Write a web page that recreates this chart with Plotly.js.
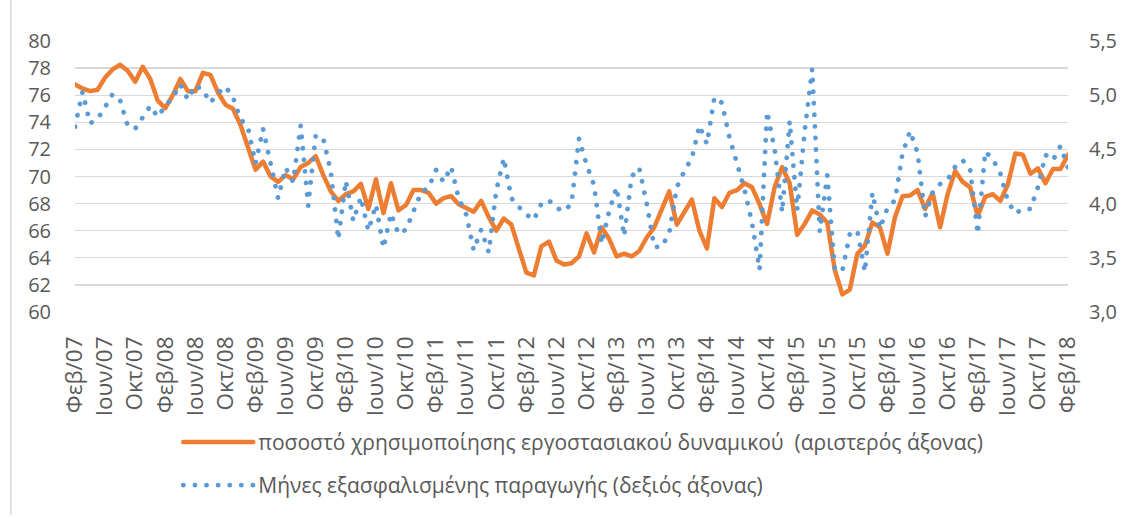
<!DOCTYPE html>
<html>
<head>
<meta charset="utf-8">
<script src="https://cdn.plot.ly/plotly-3.0.1.min.js"></script>
<style>
  html, body { margin: 0; padding: 0; background: #ffffff; }
  #chart { width: 1125px; height: 518px; }
  .js-line { stroke-linecap: round; stroke-linejoin: round; }
</style>
</head>
<body>
<div id="chart"></div>
<script>
// Greek month abbreviations and first month / year of the series
const monthNames = ["Ιαν","Φεβ","Μαρ","Απρ","Μαϊ","Ιουν","Ιουλ","Αυγ","Σεπ","Οκτ","Νοε","Δεκ"];
const startMonth = 1;   // Φεβ
const startYear = 2007;

// Tick labels shown on the x axis (every 4 months)
const tickLabels = [
  "Φεβ/07","Ιουν/07","Οκτ/07","Φεβ/08","Ιουν/08","Οκτ/08","Φεβ/09","Ιουν/09","Οκτ/09",
  "Φεβ/10","Ιουν/10","Οκτ/10","Φεβ/11","Ιουν/11","Οκτ/11","Φεβ/12","Ιουν/12","Οκτ/12",
  "Φεβ/13","Ιουν/13","Οκτ/13","Φεβ/14","Ιουν/14","Οκτ/14","Φεβ/15","Ιουν/15","Οκτ/15",
  "Φεβ/16","Ιουν/16","Οκτ/16","Φεβ/17","Ιουν/17","Οκτ/17","Φεβ/18"
];

// Capacity utilisation (%), left axis, monthly Φεβ/07 .. Φεβ/18
const capacityUtilisation = [
  76.8,76.5,76.3,76.4,77.3,77.9,78.25,77.8,77.0,78.1,77.2,75.6,
  75.05,76.0,77.2,76.3,76.3,77.65,77.5,76.2,75.3,75.0,73.8,72.1,
  70.5,71.1,70.0,69.6,70.1,69.8,70.7,71.0,71.5,70.1,68.9,68.2,
  68.7,68.9,69.45,67.6,69.8,67.3,69.5,67.5,67.9,69.0,69.0,68.8,
  68.0,68.4,68.55,67.95,67.7,67.4,68.2,67.0,66.0,66.9,66.45,64.7,
  62.9,62.7,64.85,65.2,63.8,63.5,63.6,64.1,65.8,64.4,66.25,65.4,
  64.1,64.3,64.1,64.5,65.5,66.25,67.6,68.9,66.45,67.35,68.3,66.0,
  64.7,68.4,67.75,68.8,69.0,69.5,69.2,67.95,66.5,69.2,70.7,69.5,
  65.7,66.5,67.5,67.2,66.6,63.1,61.3,61.65,64.3,64.9,66.6,66.25,
  64.3,67.0,68.55,68.6,69.0,67.6,68.8,66.25,68.7,70.4,69.6,69.2,
  67.1,68.5,68.7,68.2,69.4,71.7,71.6,70.2,70.6,69.5,70.55,70.55,
  71.6
];

// Months of secured production, right axis, monthly Φεβ/07 .. Φεβ/18
const securedMonths = [
  4.71,5.03,4.74,4.78,4.89,5.01,4.95,4.72,4.69,4.79,4.90,4.80,
  4.90,4.98,5.10,4.96,5.09,5.05,4.93,5.02,5.08,4.98,4.78,4.70,
  4.37,4.69,4.35,4.05,4.33,4.20,4.72,3.98,4.63,4.60,4.30,3.67,
  4.21,3.84,4.06,3.75,3.99,3.59,3.91,3.72,3.76,3.92,4.10,4.15,
  4.31,4.20,4.34,4.05,3.90,3.57,3.76,3.55,4.12,4.42,4.05,3.97,
  3.90,3.85,4.00,4.03,3.96,3.93,4.00,4.60,4.36,4.17,3.63,3.93,
  4.15,3.70,4.25,4.33,4.00,3.60,3.60,3.73,4.15,4.30,4.42,4.72,
  4.55,4.98,4.93,4.61,4.36,4.13,3.82,3.39,4.85,4.50,3.92,4.76,
  3.94,4.67,5.24,3.74,4.26,3.39,3.38,3.72,3.75,3.37,4.10,3.77,
  3.96,4.03,4.46,4.67,4.47,3.88,4.10,4.18,4.22,4.34,4.40,4.31,
  3.72,4.48,4.41,4.28,4.02,3.91,3.95,3.95,4.15,4.45,4.40,4.53,
  4.33
];

const seriesNames = [
  "ποσοστό χρησιμοποίησης εργοστασιακού δυναμικού  (αριστερός άξονας)",
  "Μήνες εξασφαλισμένης παραγωγής (δεξιός άξονας)"
];

// Build monthly category labels
const months = [];
for (let k = 0; k < capacityUtilisation.length; k++) {
  const m = (startMonth + k) % 12;
  const y = startYear + Math.floor((startMonth + k) / 12);
  months.push(monthNames[m] + "/" + String(y % 100).padStart(2, "0"));
}

const fontFam = "'Open Sans', 'Noto Sans', sans-serif";
const grey = "#595959";

const traces = [
  {
    x: months, y: capacityUtilisation, name: seriesNames[0],
    type: "scatter", mode: "lines", yaxis: "y",
    line: { color: "#ED7D31", width: 4.5 },
    legendgroup: "a", hoverinfo: "x+y"
  },
  {
    x: months, y: securedMonths, name: seriesNames[1],
    type: "scatter", mode: "lines", yaxis: "y2",
    line: { color: "#5B9BD5", width: 4.8, dash: "0.1px,11.5px" },
    legendgroup: "b", hoverinfo: "x+y"
  }
];

const layout = {
  width: 1125, height: 518,
  margin: { l: 75, r: 57, t: 41, b: 202 },
  paper_bgcolor: "#ffffff", plot_bgcolor: "#ffffff",
  separators: ",.",
  font: { family: fontFam, color: grey, size: 20 },
  showlegend: true,
  legend: {
    x: 0.104, y: -0.405, xanchor: "left", yanchor: "top",
    orientation: "v", traceorder: "grouped", tracegroupgap: 13,
    font: { family: fontFam, size: 21, color: grey },
    itemwidth: 70, bgcolor: "rgba(0,0,0,0)"
  },
  xaxis: {
    type: "category", range: [0, months.length - 1],
    tickmode: "array", tickvals: tickLabels, ticktext: tickLabels,
    tickangle: -90, showgrid: false, zeroline: false, showline: false,
    ticks: "", ticklabelstandoff: 19,
    tickfont: { family: fontFam, size: 22.5, color: grey }
  },
  yaxis: {
    range: [60, 80], dtick: 2, tick0: 60,
    showgrid: true, gridcolor: "#d9d9d9", gridwidth: 1.4,
    zeroline: false, showline: false, ticks: "", ticklabelstandoff: 23,
    tickfont: { family: fontFam, size: 20, color: grey }
  },
  yaxis2: {
    range: [3.0, 5.5], dtick: 0.5, tick0: 3.0, tickformat: ".1f",
    overlaying: "y", side: "right", showgrid: false,
    zeroline: false, showline: false, ticks: "", ticklabelstandoff: 20,
    tickfont: { family: fontFam, size: 20, color: grey }
  },
  shapes: [
    { type: "line", xref: "paper", yref: "paper",
      x0: -0.0645, x1: -0.0645, y0: -0.75, y1: 1.16,
      line: { color: "#d9d9d9", width: 1.5 } }
  ]
};

Plotly.newPlot("chart", traces, layout, { displayModeBar: false, staticPlot: true });
</script>
</body>
</html>
